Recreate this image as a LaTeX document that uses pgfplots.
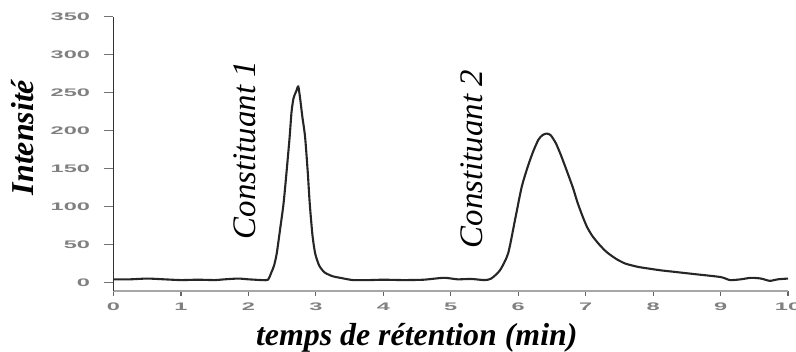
\documentclass[border=0pt]{standalone}
\usepackage{fontspec}
\setmainfont{Liberation Serif}
\newfontfamily\tickfont{Liberation Sans}
\usepackage{pgfplots}
\pgfplotsset{compat=1.18}
\pgfplotstableread{
t I
0.00 4
0.25 4
0.50 5
0.75 4
1.00 3
1.25 3.5
1.50 3
1.65 4
1.85 5
2.00 4
2.20 3
2.29 3.5
2.34 13
2.38 22
2.42 38
2.47 70
2.52 103
2.56 140
2.61 190
2.64 225
2.67 243
2.71 252
2.74 258
2.77 240
2.80 218
2.84 192
2.88 145
2.91 103
2.95 62
2.99 38
3.05 22
3.13 13
3.25 8
3.36 6
3.55 3
3.80 3
4.00 3.5
4.30 3
4.60 3.5
4.90 6
5.10 4
5.30 4.5
5.50 3
5.60 5
5.73 16
5.85 38
5.95 81
6.05 125
6.14 152
6.22 172
6.30 188
6.36 194
6.42 196
6.48 194
6.56 183
6.64 166
6.72 147
6.81 125
6.88 105
6.95 88
7.02 73
7.10 61
7.20 50
7.31 40
7.45 31
7.58 25
7.70 22
7.80 20
8.10 16
8.30 14
8.60 11
9.00 7
9.14 3
9.30 4
9.45 6
9.60 5
9.73 2
9.85 4
10.00 5
}\chrom
\begin{document}
\begin{tikzpicture}[x=1bp,y=1bp]
\path[use as bounding box] (-113.5,-60.3) rectangle (682.5,290.7);
\begin{axis}[
  at={(0,0)}, anchor=south west,
  scale only axis, width=674.5bp, height=274bp,
  xmin=0, xmax=10, ymin=-11, ymax=350,
  axis lines=left,
  axis line style={-},
  x axis line style={draw=black!35, line width=2.2bp},
  y axis line style={draw=black!80, line width=1.3bp},
  xtick={0,1,...,10}, ytick={0,50,...,350},
  tick align=outside,
  major tick length=9bp,
  xtick style={draw=black!60, line width=1.2bp, /pgfplots/major tick length=5bp},
  ytick style={draw=black!55, line width=1.2bp},
  xticklabel={\scalebox{2.15}[1]{\tickfont\bfseries\pgfmathprintnumber[assume math mode=true]{\tick}}},
  yticklabel={\scalebox{2.15}[1]{\tickfont\bfseries\pgfmathprintnumber[assume math mode=true]{\tick}}},
  ticklabel style={font=\fontsize{11}{12}\selectfont, text=black!50},
  yticklabel style={xshift=-11bp},
  xlabel={\textbf{\textit{temps de rétention (min)}}},
  ylabel={\textbf{\textit{Intensité}}},
  label style={font=\fontsize{32}{36}\selectfont},
  xlabel style={at={(axis description cs:0.4496,-0.1990)}, anchor=base},
  ylabel style={at={(axis description cs:-0.1193,0.561)}, anchor=base, rotate=0},
  clip=false,
]
\addplot[draw=black!85, line width=2.1bp, smooth, tension=0.4] table[x=t, y=I] {\chrom};
\node[rotate=90, anchor=base, font=\fontsize{33}{36}\selectfont\itshape] at (axis cs:2.098,174.3) {Constituant 1};
\node[rotate=90, anchor=base, font=\fontsize{33}{36}\selectfont\itshape] at (axis cs:5.478,162.5) {Constituant 2};
\end{axis}
\end{tikzpicture}
\end{document}
